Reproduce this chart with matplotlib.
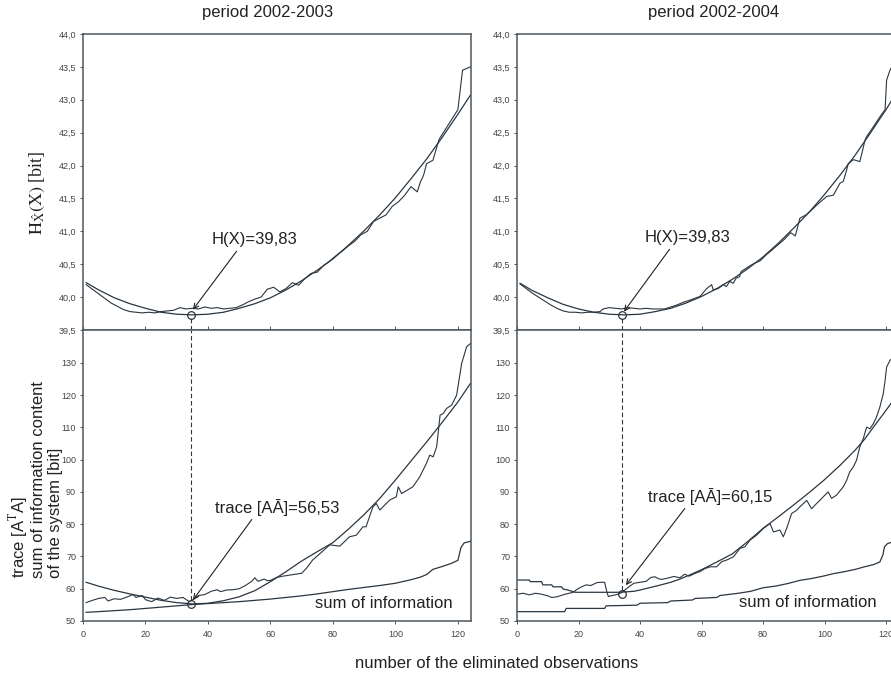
import matplotlib
matplotlib.use('Agg')
import matplotlib.pyplot as plt
from matplotlib.ticker import FuncFormatter, MultipleLocator

plt.rcParams['font.family'] = ['Liberation Sans', 'DejaVu Sans']
plt.rcParams['mathtext.fontset'] = 'stix'

# ---- data ----
titles = ['period 2002-2003', 'period 2002-2004']

# top left: entropy, fitted curve and raw curve
tl_fit_x = [1, 5, 10, 15, 20, 25, 30, 35, 40, 45, 50, 55, 60, 65, 70, 75, 80, 85, 90, 95, 100, 105, 110, 115, 120, 124]
tl_fit_y = [40.22, 40.11, 39.99, 39.90, 39.83, 39.77, 39.74, 39.73, 39.74, 39.77, 39.83, 39.90, 39.99, 40.11, 40.25,
            40.41, 40.58, 40.79, 41.01, 41.25, 41.51, 41.80, 42.10, 42.43, 42.78, 43.07]
tl_raw_x = [1, 3, 5, 7, 9, 11, 13, 15, 17, 19, 21, 23, 25, 27, 29, 31, 33, 35, 37, 39, 41, 43, 45, 47, 49, 51, 53,
            55, 57, 59, 61, 63, 65, 67, 69, 71, 73, 75, 77, 79, 81, 83, 85, 87, 89, 91, 93, 95, 97, 99, 101, 103,
            105, 107, 108, 109, 110, 112, 113, 114, 116, 118, 120, 121.5, 124]
tl_raw_y = [40.19, 40.12, 40.05, 39.98, 39.91, 39.86, 39.81, 39.78, 39.77, 39.76, 39.77, 39.76, 39.78, 39.79, 39.80,
            39.84, 39.82, 39.83, 39.82, 39.85, 39.83, 39.84, 39.82, 39.83, 39.84, 39.88, 39.93, 39.97, 40.00, 40.12,
            40.15, 40.08, 40.13, 40.22, 40.18, 40.28, 40.36, 40.38, 40.48, 40.55, 40.63, 40.70, 40.78, 40.85, 40.95,
            41.00, 41.15, 41.20, 41.25, 41.38, 41.45, 41.55, 41.68, 41.60, 41.75, 41.85, 42.03, 42.08, 42.24, 42.40,
            42.55, 42.70, 42.85, 43.45, 43.50]

# top right
tr_fit_x = [1, 5, 10, 15, 20, 25, 30, 35, 40, 45, 50, 55, 60, 65, 70, 75, 80, 85, 90, 95, 100, 105, 110, 115, 120, 122.5, 125]
tr_fit_y = [40.21, 40.10, 39.99, 39.89, 39.82, 39.77, 39.74, 39.73, 39.74, 39.78, 39.83, 39.91, 40.01, 40.13, 40.27,
            40.43, 40.61, 40.82, 41.05, 41.29, 41.56, 41.85, 42.16, 42.50, 42.85, 43.04, 43.23]
tr_raw_x = [1, 3, 5, 7, 9, 11, 13, 15, 17, 19, 21, 23, 25, 27, 28, 30, 32, 34, 36, 38, 40, 42, 44, 46, 48, 50, 52,
            54, 56, 59.5, 61.7, 63.3, 63.8, 65.4, 67.1, 68.1, 69.2, 70.3, 71.3, 72.4, 72.9, 75.2, 77, 79, 81, 83, 85,
            87, 89, 90.5, 92, 94, 96.4, 97.5, 100.7, 102.9, 105.0, 106.1, 107.2, 107.7, 109.4, 111.5, 113.2, 113.7,
            115.9, 118.0, 119.7, 120.2, 121.3, 123]
tr_raw_y = [40.20, 40.13, 40.06, 40.00, 39.94, 39.88, 39.83, 39.79, 39.77, 39.77, 39.76, 39.77, 39.77, 39.78, 39.82,
            39.84, 39.83, 39.82, 39.84, 39.83, 39.82, 39.83, 39.82, 39.82, 39.82, 39.85, 39.88, 39.92, 39.95, 40.01,
            40.13, 40.19, 40.11, 40.13, 40.19, 40.16, 40.24, 40.21, 40.29, 40.31, 40.39, 40.46, 40.51, 40.55, 40.64,
            40.72, 40.80, 40.88, 40.98, 40.93, 41.20, 41.25, 41.35, 41.40, 41.53, 41.55, 41.73, 41.76, 41.93, 42.03,
            42.09, 42.06, 42.39, 42.44, 42.59, 42.74, 42.85, 43.30, 43.45, 43.60]

# bottom left: trace fit, trace raw, sum of information
bl_fit_x = [1, 5, 10, 15, 20, 25, 30, 35, 40, 45, 50, 55, 60, 65, 70, 75, 80, 85, 90, 95, 100, 105, 110, 115, 120, 124]
bl_fit_y = [62.0, 60.8, 59.5, 58.4, 57.4, 56.4, 55.7, 55.3, 55.5, 56.3, 57.5, 59.4, 62.2, 65.3, 68.6, 71.5, 74.3,
            78.5, 83.0, 88.0, 93.7, 99.6, 105.5, 111.6, 117.9, 123.6]
bl_raw_x = [1, 3, 5, 7, 8, 10, 12, 14, 16, 17, 19, 20, 22, 24, 26, 28, 30, 32, 34, 35, 37, 39, 41, 43, 44, 46, 48,
            50, 52, 54, 55, 56, 58, 59, 60, 62, 64, 66, 68, 70, 71.5, 73.5, 76, 79, 82.2, 85.3, 87.5, 89.6, 90.6,
            91.7, 92.8, 93.9, 95, 98.2, 100.3, 100.9, 102, 105.6, 107.8, 109.9, 111, 112.1, 113.2, 113.8, 114.3,
            115.3, 116.4, 118, 119.6, 121.2, 122.8, 124]
bl_raw_y = [55.7, 56.4, 57.0, 57.3, 56.2, 56.9, 56.7, 57.4, 58.2, 57.3, 57.9, 56.6, 56.0, 57.1, 56.4, 57.4, 57.0,
            57.3, 56.0, 56.5, 57.9, 58.2, 59.2, 59.7, 59.1, 59.6, 59.7, 60.0, 61.0, 62.3, 63.4, 62.3, 63.0, 62.5,
            62.6, 63.5, 63.9, 64.2, 64.5, 64.8, 66.3, 68.9, 71.0, 73.6, 73.2, 76.1, 76.6, 79.2, 79.2, 82.3, 85.4,
            86.4, 84.4, 87.5, 88.5, 91.6, 89.5, 91.6, 94.7, 98.8, 101.4, 100.9, 104.0, 109.2, 113.8, 114.3, 115.9,
            116.9, 120.0, 129.8, 135.0, 136.0]
bl_sum_x = [1, 5, 10, 15, 20, 25, 30, 35, 40, 45, 50, 55, 60, 65, 70, 75, 80, 85, 90, 95, 100, 105, 108, 110, 112,
            115, 118, 120, 121, 122, 124]
bl_sum_y = [52.7, 52.9, 53.2, 53.5, 53.9, 54.3, 54.7, 55.1, 55.4, 55.7, 56.0, 56.4, 56.8, 57.3, 57.8, 58.4, 59.1,
            59.8, 60.4, 61.0, 61.7, 62.8, 63.6, 64.4, 66.0, 66.9, 67.9, 68.8, 72.8, 74.2, 74.7]

# bottom right
br_fit_x = [0, 4, 4.3, 8, 8.4, 11.3, 11.7, 14.5, 15, 16.5, 18.3, 19, 33, 35, 38, 40, 43, 46, 50, 53, 56, 60, 65,
            70, 75, 80, 85, 90, 95, 100, 105, 110, 113, 116, 119, 121, 123]
br_fit_y = [62.7, 62.7, 62.2, 62.2, 61.2, 61.2, 60.6, 60.6, 59.9, 59.6, 59.1, 58.9, 58.9, 59.0, 59.2, 59.6, 60.3,
            61.0, 62.0, 63.0, 64.2, 65.9, 68.3, 70.8, 74.6, 78.7, 82.3, 86.0, 89.8, 93.8, 98.2, 103.0, 106.3,
            110.2, 114.0, 116.6, 119.3]
br_raw_x = [0, 2, 4, 6, 8, 10, 11.3, 13, 15.6, 18.3, 19.5, 21, 22.5, 24, 26, 27.5, 28.5, 29.2, 29.7, 31, 32.5,
            34, 36, 38, 40, 42, 43.5, 44.9, 46, 47, 49, 51, 53, 54.5, 56, 58, 59.5, 61, 62.8, 64.9, 66.6, 68.2,
            70.4, 72.5, 74.1, 75.8, 77.9, 80.1, 82.3, 83.4, 85.5, 86.6, 87.7, 89.3, 90.9, 92.0, 94.2, 95.8, 97.4,
            98.5, 100.1, 101.2, 102.3, 103.9, 106.1, 107.2, 108.2, 109.4, 110.4, 111.5, 112.6, 113.7, 114.8,
            115.9, 116.9, 118.0, 119.1, 119.7, 120.2, 121.3, 121.8, 123]
br_raw_y = [58.3, 58.6, 58.1, 58.6, 58.3, 57.8, 57.3, 57.5, 58.3, 58.9, 59.8, 60.6, 61.2, 61.0, 61.9, 62.0, 62.0,
            59.1, 57.6, 57.9, 58.2, 58.8, 60.3, 61.7, 62.0, 62.3, 63.5, 63.7, 63.1, 62.9, 63.3, 63.8, 63.4, 64.5,
            63.9, 64.8, 65.3, 66.2, 66.8, 66.8, 68.4, 68.9, 69.9, 72.5, 73.0, 75.1, 76.6, 78.7, 80.2, 77.6, 78.2,
            76.1, 78.7, 83.3, 84.3, 85.4, 87.4, 84.8, 86.4, 87.4, 89.0, 90.0, 88.0, 89.0, 91.6, 93.6, 96.2, 97.8,
            99.8, 104.0, 106.5, 110.1, 109.6, 111.2, 113.2, 116.3, 120.4, 124.5, 128.7, 130.8, 131.3, 131.5]
br_sum_x = [0, 15.5, 16, 28.5, 29, 39, 40, 49, 50, 57, 58, 65, 66, 72, 76, 80, 84, 88, 92, 96, 100, 103, 106,
            110, 113, 116, 118, 119, 119.5, 120.5, 122.5]
br_sum_y = [52.9, 52.9, 53.9, 53.9, 54.7, 54.9, 55.5, 55.7, 56.2, 56.5, 57.0, 57.3, 57.9, 58.6, 59.2, 60.3, 60.8,
            61.6, 62.6, 63.2, 64.0, 64.7, 65.2, 66.0, 66.8, 67.5, 68.3, 70.5, 73.0, 74.0, 74.6]

# optimum markers (x, top value, bottom value) and labels
opt_x = [34.5, 34.2]
opt_top = [39.73, 39.73]
opt_bot = [55.3, 58.4]
top_labels = ['H(X)=39,83', 'H(X)=39,83']
bot_labels = ['trace [AĀ]=56,53', 'trace [AĀ]=60,15']

# ---- figure ----
W, H = 891, 674
fig = plt.figure(figsize=(W / 100, H / 100), dpi=100)

LC = '#2b3640'
SC = '#4d575e'


def px_ax(x0, x1, y0, y1):
    # pixel box -> figure axes
    return fig.add_axes([x0 / W, 1 - y1 / H, (x1 - x0) / W, (y1 - y0) / H])


def style(ax):
    for s in ax.spines.values():
        s.set_color(SC)
        s.set_linewidth(1.1)
    ax.tick_params(labelsize=6.5, labelcolor='#444444', color=SC, length=2.5, width=0.7, pad=2.5)


comma = FuncFormatter(lambda v, p: ('%.1f' % v).replace('.', ','))

panels = [
    dict(x0=83, x1=471, top=(tl_fit_x, tl_fit_y, tl_raw_x, tl_raw_y),
         bot=(bl_fit_x, bl_fit_y, bl_raw_x, bl_raw_y, bl_sum_x, bl_sum_y),
         txt_top=(41.3, 40.87), arr_top=(35.2, 39.81), txt_bot=(42.2, 85.3), arr_bot=(35.2, 56.5),
         sum_pos=(74.2, 55.3), title_x=268),
    dict(x0=517, x1=517 + 3.075 * 124.2, top=(tr_fit_x, tr_fit_y, tr_raw_x, tr_raw_y),
         bot=(br_fit_x, br_fit_y, br_raw_x, br_raw_y, br_sum_x, br_sum_y),
         txt_top=(41.6, 40.9), arr_top=(34.8, 39.78), txt_bot=(42.6, 88.7), arr_bot=(35.4, 61.1),
         sum_pos=(72.2, 55.6), title_x=714),
]

for i, p in enumerate(panels):
    axt = px_ax(p['x0'], p['x1'], 34, 330)
    axb = px_ax(p['x0'], p['x1'], 330, 621)

    fx, fy, rx, ry = p['top']
    axt.plot(fx, fy, color=LC, lw=0.9)
    axt.plot(rx, ry, color=LC, lw=0.8)
    axt.set_xlim(0, 124.2)
    axt.set_ylim(39.5, 44.0)
    axt.yaxis.set_major_locator(MultipleLocator(0.5))
    axt.yaxis.set_major_formatter(comma)
    axt.xaxis.set_major_locator(MultipleLocator(20))
    axt.set_xticklabels([])
    style(axt)
    axt.tick_params(axis='x', direction='in', length=3)

    fx, fy, rx, ry, sx, sy = p['bot']
    axb.plot(fx, fy, color=LC, lw=0.9)
    axb.plot(rx, ry, color=LC, lw=0.8)
    axb.plot(sx, sy, color=LC, lw=0.9)
    axb.set_xlim(0, 124.2)
    axb.set_ylim(50, 140.2)
    axb.set_yticks([50, 60, 70, 80, 90, 100, 110, 120, 130])
    axb.xaxis.set_major_locator(MultipleLocator(20))
    style(axb)
    axb.tick_params(axis='x', pad=4)

    # optimum: circles and dashed link between the panels
    ox = opt_x[i]
    axt.plot([ox], [opt_top[i]], 'o', mfc='none', mec=LC, ms=5.5, mew=0.9, clip_on=False)
    axb.plot([ox], [opt_bot[i]], 'o', mfc='none', mec=LC, ms=5.5, mew=0.9, clip_on=False)
    axt.plot([ox, ox], [39.5, opt_top[i] - 0.04], ls=(0, (4, 2.5)), color=LC, lw=0.8)
    axb.plot([ox, ox], [opt_bot[i] + 1.2, 140.2], ls=(0, (4, 2.5)), color=LC, lw=0.8)

    arr = dict(arrowstyle='->', color='#222222', lw=0.8, mutation_scale=9, relpos=(0.32, 0.0), shrinkA=1, shrinkB=0)
    axt.annotate(top_labels[i], xy=p['arr_top'], xytext=p['txt_top'], ha='left', va='center',
                 fontsize=12, color='#222222', arrowprops=arr)
    axb.annotate(bot_labels[i], xy=p['arr_bot'], xytext=p['txt_bot'], ha='left', va='center',
                 fontsize=12, color='#222222', arrowprops=arr)
    axb.text(p['sum_pos'][0], p['sum_pos'][1], 'sum of information', ha='left', va='center',
             fontsize=12, color='#222222')

    fig.text(p['title_x'] / W, 1 - 13 / H, titles[i], ha='center', va='center', fontsize=12, color='#222222')

fig.text(37 / W, 1 - 193 / H, r'$\mathrm{H}_{\hat{\mathrm{X}}}(\mathrm{X})$ [bit]', rotation=90,
         ha='center', va='center', fontsize=13, family='Liberation Serif', color='#222222')
fig.text(35 / W, 1 - 480 / H, 'trace [A$^{\\rm T}$A]\nsum of information content\nof the system [bit]',
         rotation=90, ha='center', va='center', multialignment='left', fontsize=12, linespacing=1.1,
         color='#222222')
fig.text(497 / W, 1 - 663 / H, 'number of the eliminated observations', ha='center', va='center',
         fontsize=12, color='#222222')

fig.savefig('out.png', dpi=100)
